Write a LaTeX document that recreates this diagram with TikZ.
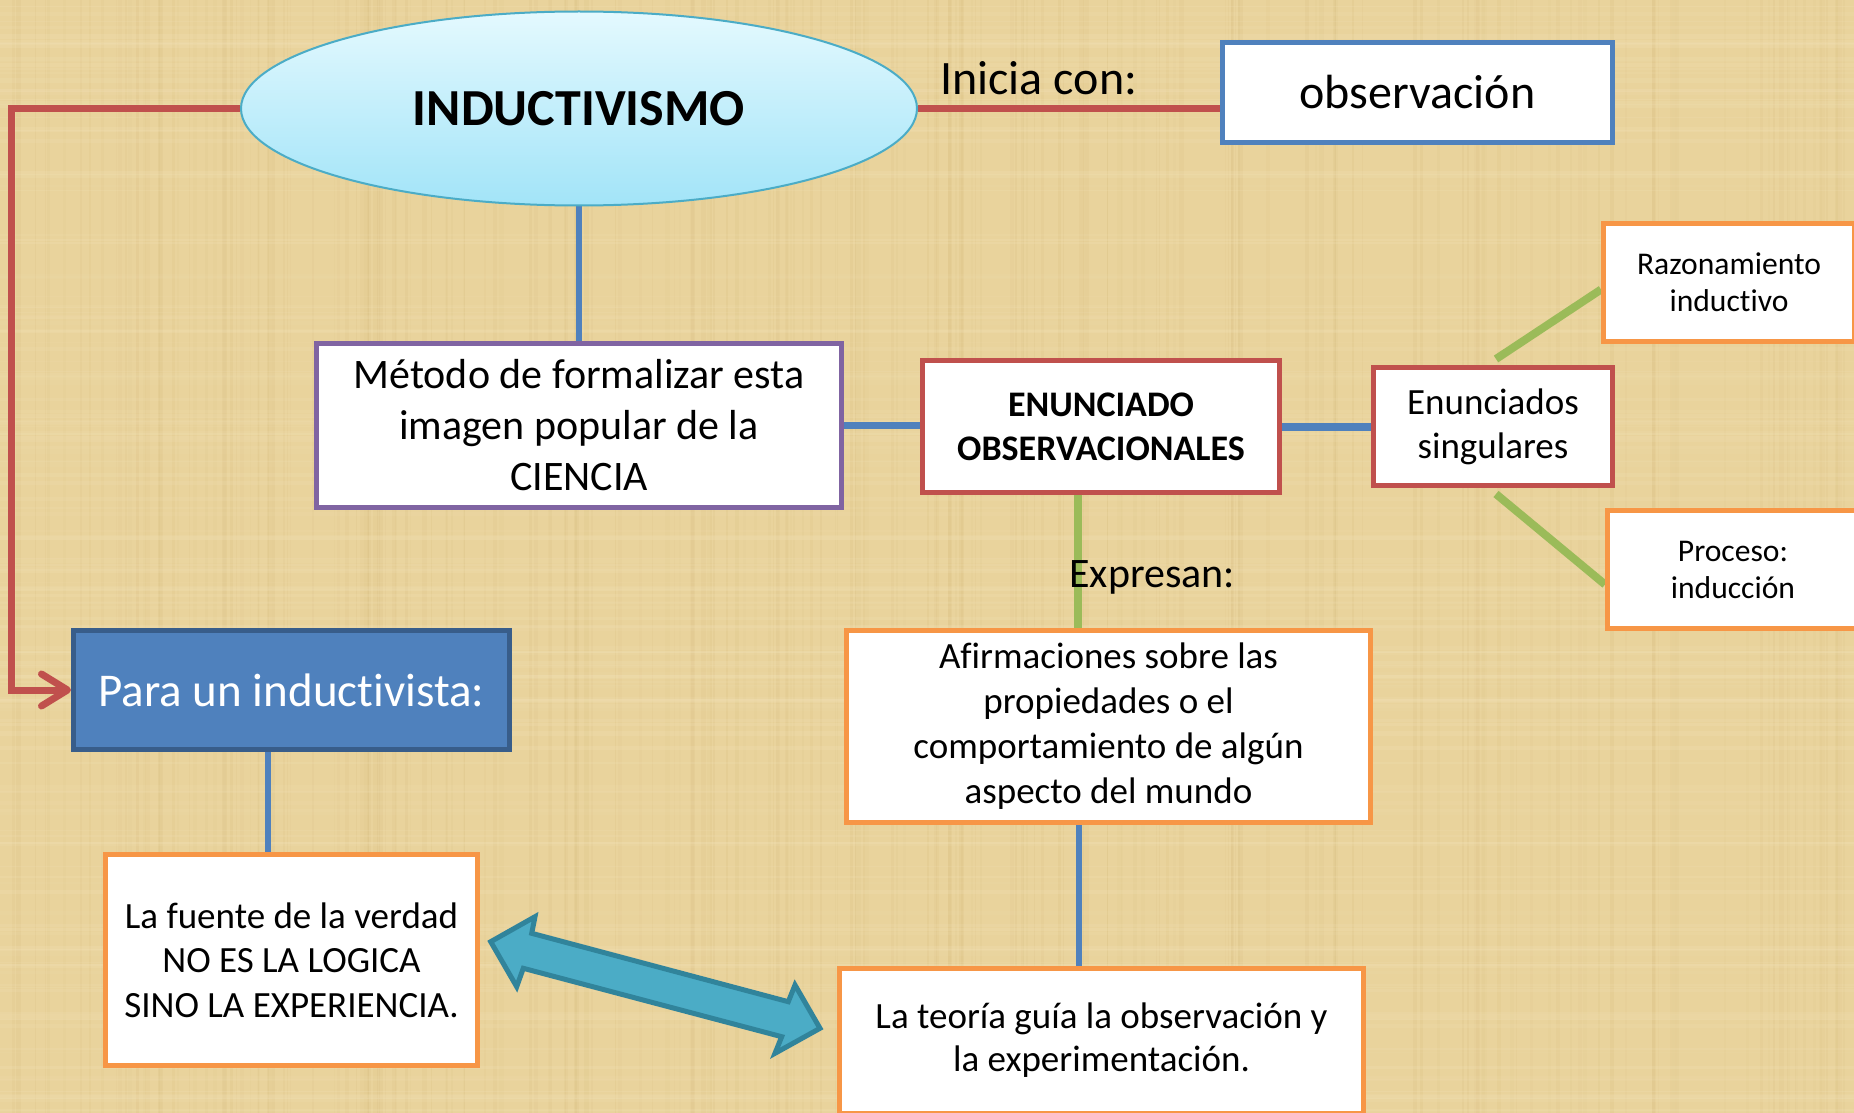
\documentclass[tikz,border=0pt]{standalone}
\usepackage{fontspec}
\setmainfont{Carlito}[Ligatures=NoCommon]
\usetikzlibrary{shapes.geometric,arrows.meta,calc}
\definecolor{bgc}{HTML}{E9D39C}
\definecolor{bgdark}{HTML}{CFB170}
\definecolor{bglight}{HTML}{F5E6BE}
\definecolor{cred}{HTML}{C0504D}
\definecolor{cblue}{HTML}{4F81BD}
\definecolor{cbluedark}{HTML}{385D8A}
\definecolor{cpurple}{HTML}{8064A2}
\definecolor{corange}{HTML}{F79646}
\definecolor{cgreen}{HTML}{9BBB59}
\definecolor{ccyan}{HTML}{4BACC6}
\definecolor{ccyandark}{HTML}{31849B}
\definecolor{elltop}{HTML}{E4F9FE}
\definecolor{ellbot}{HTML}{A2E4F8}
\pgfdeclarelayer{bglayer}
\pgfsetlayers{bglayer,main}
\begin{document}
\begin{tikzpicture}[x=0.5pt,y=-0.5pt,
  box/.style={draw, fill=white, line width=2.5pt, align=center, inner sep=0pt, text=black},
  body/.style={font=\fontsize{18.5}{22.5}\selectfont},
  small/.style={font=\fontsize{15.8}{18.5}\selectfont},
  redline/.style={draw=cred, line width=3.5pt},
  blueline/.style={draw=cblue, line width=3pt},
  greenline/.style={draw=cgreen, line width=4pt}
]
\useasboundingbox (0,0) rectangle (1854,1113);
\begin{pgfonlayer}{bglayer}
\fill[bgc] (0,0) rectangle (1854,1113);
\pgfmathsetseed{42}
\foreach \i in {1,...,220}{
  \pgfmathsetmacro{\xx}{rnd*1854}
  \pgfmathsetmacro{\ww}{0.4+rnd*2}
  \pgfmathsetmacro{\op}{0.04+rnd*0.1}
  \draw[line width=\ww pt, draw=bgdark, opacity=\op] (\xx,0) -- (\xx,1113);
}
\foreach \i in {1,...,160}{
  \pgfmathsetmacro{\yy}{rnd*1113}
  \pgfmathsetmacro{\ww}{0.4+rnd*2}
  \pgfmathsetmacro{\op}{0.06+rnd*0.14}
  \draw[line width=\ww pt, draw=bglight, opacity=\op] (0,\yy) -- (1854,\yy);
}
\end{pgfonlayer}

% nodes
\node[ellipse, draw=ccyan, line width=1pt, top color=elltop, bottom color=ellbot,
      minimum width=338pt, minimum height=97pt, inner sep=0pt,
      font=\fontsize{26}{30}\selectfont\bfseries] (ell) at (579,108.5) {INDUCTIVISMO};
\node[box, draw=cblue, minimum width=195pt, minimum height=50pt,
      font=\fontsize{24}{28}\selectfont] (obs) at (1417.5,92.5) {observación};
\node[anchor=base west, inner sep=0pt, font=\fontsize{24}{28}\selectfont] (inicia) at (940,95) {Inicia con:};
\node[box, draw=cpurple, minimum width=262.5pt, minimum height=82pt,
      font=\fontsize{21}{25.5}\selectfont] (metodo) at (579,425.5) {Método de formalizar esta\\imagen popular de la\\CIENCIA};
\node[box, draw=cred, minimum width=178.5pt, minimum height=66pt,
      font=\fontsize{18}{22}\selectfont\bfseries] (enun) at (1101,426.5) {ENUNCIADO\\OBSERVACIONALES};
\node[box, draw=cred, minimum width=119.5pt, minimum height=59pt,
      font=\fontsize{18.5}{22}\selectfont] (sing) at (1493,426.5) {Enunciados\\singulares};
\node[box, draw=corange, small, minimum width=125.5pt, minimum height=59pt] (razon) at (1729,282.5) {Razonamiento\\inductivo};
\node[box, draw=corange, small, minimum width=125.5pt, minimum height=59pt] (proc) at (1733,569.5) {Proceso:\\inducción};
\node[box, draw=cbluedark, fill=cblue, text=white, minimum width=218pt, minimum height=59.5pt,
      font=\fontsize{23.5}{28}\selectfont] (para) at (291.5,690) {Para un inductivista:};
\node[box, draw=corange, body, minimum width=262pt, minimum height=96pt] (afirm) at (1108.5,726.5) {Afirmaciones sobre las\\propiedades o el\\comportamiento de algún\\aspecto del mundo};
\node[box, draw=corange, font=\fontsize{18.5}{22.3}\selectfont, minimum width=186pt, minimum height=105.5pt] (fuente) at (291.5,960) {La fuente de la verdad\\NO ES LA LOGICA\\SINO LA EXPERIENCIA.};
\node[box, draw=corange, font=\fontsize{18.5}{21.5}\selectfont, minimum width=262pt, minimum height=72.5pt] (teoria) at (1101.5,1040.5) {La teoría guía la observación y\\la experimentación.};

% connectors
\begin{pgfonlayer}{bglayer}
\coordinate (corner1) at (11,108);
\draw[redline, -{Straight Barb[length=13pt,width=16pt,round]}] (ell.west) -- (ell.west -| corner1) |- (para.west);
\draw[redline] (ell.east) -- (ell.east -| obs.west);
\draw[blueline] (ell.south) -- (metodo.north);
\draw[blueline, line width=3.5pt] (metodo.east) -- (metodo.east -| enun.west);
\draw[blueline, line width=4pt] (enun.east) -- (sing.west);
\draw[greenline] ([xshift=-11.5pt]enun.south) -- ([xshift=-11.5pt]enun.south |- afirm.north);
\draw[blueline] ([xshift=-15pt]afirm.south) -- ([xshift=-15pt]afirm.south |- teoria.north);
\draw[blueline] ([xshift=-11.75pt]para.south) -- ([xshift=-11.75pt]para.south |- fuente.north);
\draw[greenline] ([xshift=1.5pt,yshift=3pt]sing.north) -- ([yshift=-3.5pt]razon.west);
\draw[greenline] ([xshift=1.5pt,yshift=-3pt]sing.south) -- ([yshift=-7.5pt]proc.west);
\end{pgfonlayer}

\node[anchor=base west, inner sep=0pt, font=\fontsize{21}{25}\selectfont] (expresan) at (1069,587) {Expresan:};

% double arrow
\filldraw[fill=ccyan, draw=ccyandark, line width=2.5pt, line join=miter]
  (490.7,941.7) -- (535,916.7) -- (531.7,933.3) -- (788.3,1001.7) -- (795,985)
  -- (820,1028.3) -- (775,1053.3) -- (781.7,1036.7) -- (523.3,968.3) -- (516.7,986.7) -- cycle;
\end{tikzpicture}
\end{document}
